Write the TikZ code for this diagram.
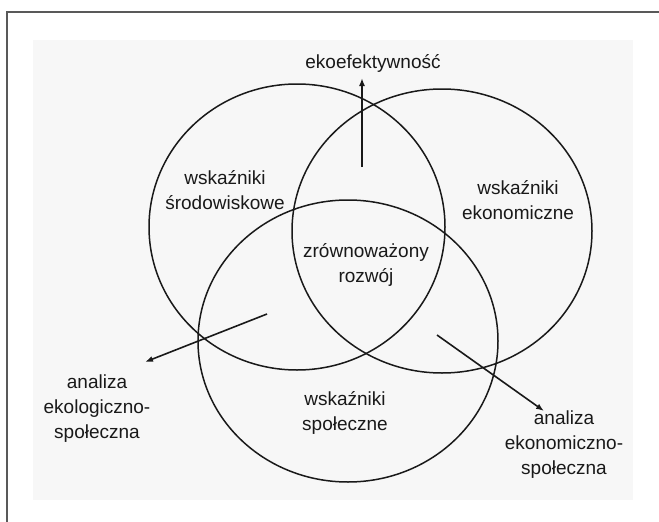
\documentclass[tikz,border=0pt]{standalone}
\usepackage{fontspec}
\setmainfont{Liberation Sans}
\usetikzlibrary{arrows.meta}
\begin{document}
\begin{tikzpicture}[x=1pt,y=-1pt,
  ring/.style={draw=black!90,line width=1.5pt},
  lbl/.style={align=center,inner sep=2pt,font=\fontsize{19}{25}\selectfont,text=black!90},
  arr/.style={draw=black!90,line width=1.6pt,-{Latex[length=8pt,width=6pt]}},
  frameline/.style={draw=black!65,line width=1.2pt}]
\useasboundingbox (0,0) rectangle (659,522);
\fill[white] (0,0) rectangle (659,522);
\fill[black!3] (33,40) rectangle (633,500);
\draw[frameline] (659,12) -- (7,12) -- (7,522);
% circles
\draw[ring] (297,227) ellipse [x radius=148pt, y radius=143pt];
\draw[ring] (442,231) ellipse [x radius=150pt, y radius=142pt];
\draw[ring] (348,341) ellipse [x radius=150pt, y radius=141pt];
% labels
\node[lbl] (eko) at (373,63) {ekoefektywność};
\node[lbl] (srod) at (225,190.5) {wskaźniki\\środowiskowe};
\node[lbl] (ekon) at (518,200) {wskaźniki\\ekonomiczne};
\node[lbl] (zrow) at (366,265) {zrównoważony\\rozwój};
\node[lbl] (spol) at (345,412.5) {wskaźniki\\społeczne};
\node[lbl] (aes) at (97,409) {analiza\\ekologiczno-\\społeczna};
\node[lbl] (aeks) at (564,445) {analiza\\ekonomiczno-\\społeczna};
% arrows
\coordinate (e0) at (362,167);
\coordinate (e1) at (362,78);
\coordinate (s0) at (267,314);
\coordinate (s1) at (145,362);
\coordinate (k0) at (437,335);
\coordinate (k1) at (544,411);
\draw[arr] (e0) -- (e1);
\draw[arr] (s0) -- (s1);
\draw[arr] (k0) -- (k1);
\end{tikzpicture}
\end{document}
